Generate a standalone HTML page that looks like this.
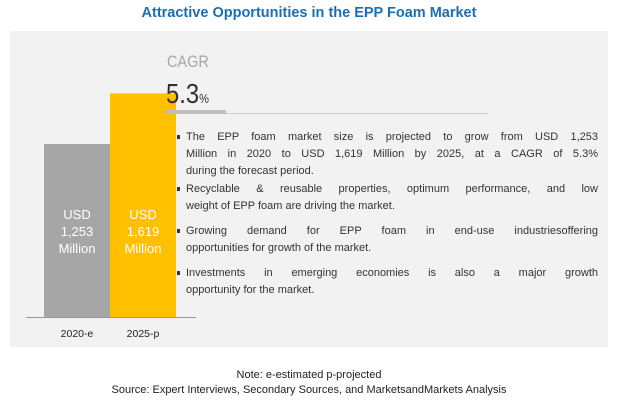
<!DOCTYPE html>
<html><head><meta charset="utf-8"><style>
body{margin:0;width:618px;height:417px;background:#fff;font-family:"Liberation Sans",sans-serif;position:relative;overflow:hidden}
.abs{position:absolute}
#title{left:0;width:618px;top:5px;text-align:center;color:#1a6fb3;font-weight:bold;font-size:14.5px}
#panel{left:10px;top:31px;width:598px;height:316px;background:#f2f2f2}
.ln{left:186px;width:412px;font-size:11px;color:#333;line-height:14px;white-space:nowrap;text-align:justify;text-align-last:justify}
.ln.last{text-align-last:left}
.dot{left:177px;width:3px;height:4px;background:#333}
.note{width:618px;left:0;text-align:center;font-size:11px;color:#222}
</style></head><body>
<div id="title" class="abs">Attractive Opportunities in the EPP Foam Market</div>
<div id="panel" class="abs"></div>
<svg class="abs" style="left:0;top:0" width="618" height="417" id="chart"></svg>
<div class="abs" style="left:167px;top:52px;font-size:17px;color:#a6a6a6;transform:scaleX(0.85);transform-origin:left">CAGR</div>
<div class="abs" style="left:166px;top:78px;font-size:28px;color:#333;transform:scaleX(0.85);transform-origin:left">5.3<span style="font-size:13px">%</span></div>
<div class="abs" style="left:165px;top:113px;width:323px;height:1px;background:#ccc"></div>
<div class="abs" style="left:165px;top:110px;width:61px;height:4px;background:#bfbfbf"></div>
<div>
<div class="abs dot" style="top:135px"></div>
<div class="abs ln" style="top:130px">The EPP foam market size is projected to grow from USD 1,253</div>
<div class="abs ln" style="top:147px">Million in 2020 to USD 1,619 Million by 2025, at a CAGR of 5.3%</div>
<div class="abs ln last" style="top:164px">during the forecast period.</div>
</div>
<div>
<div class="abs dot" style="top:187px"></div>
<div class="abs ln" style="top:182px">Recyclable &amp; reusable properties, optimum performance, and low</div>
<div class="abs ln last" style="top:199px">weight of EPP foam are driving the market.</div>
</div>
<div>
<div class="abs dot" style="top:229px"></div>
<div class="abs ln" style="top:224px">Growing demand for EPP foam in end-use industriesoffering</div>
<div class="abs ln last" style="top:241px">opportunities for growth of the market.</div>
</div>
<div>
<div class="abs dot" style="top:271px"></div>
<div class="abs ln" style="top:266px">Investments in emerging economies is also a major growth</div>
<div class="abs ln last" style="top:283px">opportunity for the market.</div>
</div>
<div class="abs note" style="top:369px">Note: e-estimated p-projected</div>
<div class="abs note" style="top:384px">Source: Expert Interviews, Secondary Sources, and MarketsandMarkets Analysis</div>
<script>
const categories=["2020-e","2025-p"];
const values=[1253,1619];
const valueLabels=["1,253","1,619"];
const colors=["#a6a6a6","#ffc000"];
const NS="http://www.w3.org/2000/svg";
const svg=document.getElementById("chart");
const base=317,scale=173/1253,x0=44,bw=66;
const y=v=>base-v*scale;
function mk(t,a){const e=document.createElementNS(NS,t);for(const k in a)e.setAttribute(k,a[k]);svg.appendChild(e);return e;}
categories.forEach((c,i)=>{
 const r=mk("rect",{x:x0+i*bw,y:y(values[i]),width:bw,height:base-y(values[i]),fill:colors[i]});
 
 
 const cx=x0+i*bw+bw/2;
 ["USD",valueLabels[i],"Million"].forEach((s,j)=>{
  const t=mk("text",{x:cx,y:219+j*17,"text-anchor":"middle",fill:"#fff","font-size":"13","font-family":"Liberation Sans, sans-serif"});
  t.textContent=s;
  
  
 });
 const l=mk("text",{x:cx,y:337,"text-anchor":"middle",fill:"#222","font-size":"10.5","font-family":"Liberation Sans, sans-serif"});
 l.textContent=c;
 
 
});
const ax=mk("line",{x1:26,x2:196,y1:base+0.5,y2:base+0.5,stroke:"#999","stroke-width":1});


</script>
</body></html>
